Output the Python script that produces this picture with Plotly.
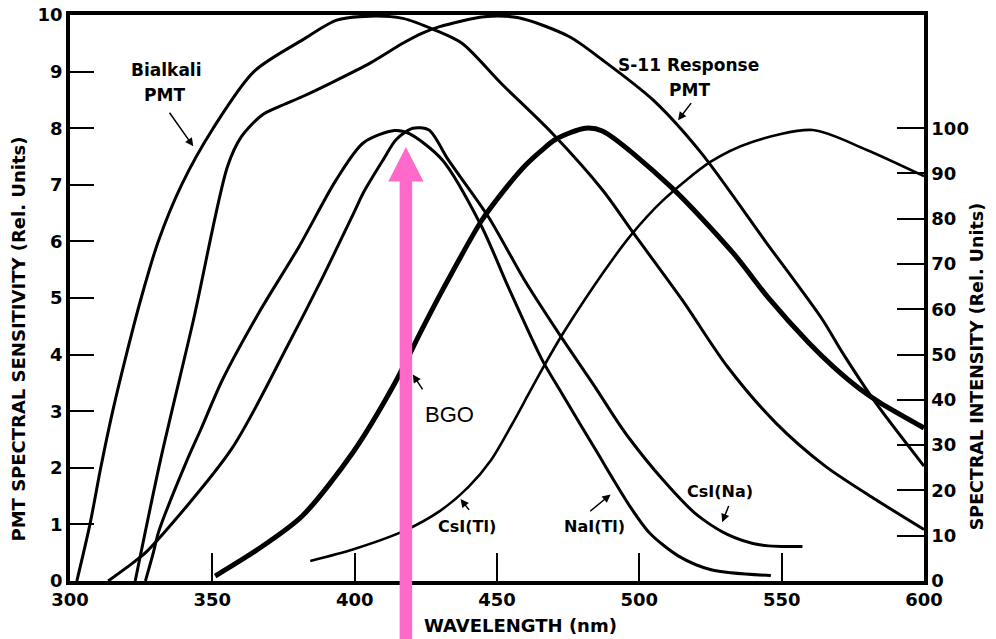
import plotly.graph_objects as go

# ---------------- data ----------------
wavelength_ticks = [300, 350, 400, 450, 500, 550, 600]
pmt_ticks = list(range(0, 11))
intensity_ticks = list(range(0, 101, 10))

# PMT spectral sensitivity (left axis, rel. units 0-10)
bialkali_nm = [302.4, 307.0, 310.8, 315.0, 319.8, 325.0, 331.0, 339.2, 350.3, 364.6,
               381.7, 393.7, 405.4, 416.9, 428.4, 437.7, 451.5, 469.4, 487.2, 497.9,
               515.0, 530.9, 548.0, 565.3, 583.0, 600.0]
bialkali_sens = [0.0, 1.0, 2.0, 3.0, 4.0, 5.0, 6.0, 7.0, 8.0, 9.0,
                 9.56, 9.91, 9.98, 9.94, 9.73, 9.5, 8.79, 7.91, 6.9, 6.15,
                 4.97, 3.79, 2.79, 2.03, 1.44, 0.91]

s11_nm = [322.9, 331.8, 343.4, 355.3, 360.2, 367.4, 373.4, 381.7, 392.5, 405.4,
          416.9, 423.8, 429.6, 445.5, 457.6, 475.3, 487.2, 504.8, 521.8, 544.6,
          564.3, 571.4, 583.0, 600.0]
s11_sens = [0.0, 2.14, 4.62, 7.32, 7.85, 8.23, 8.38, 8.56, 8.82, 9.15,
            9.5, 9.68, 9.79, 9.97, 9.95, 9.62, 9.2, 8.5, 7.56, 5.98,
            4.62, 4.03, 3.15, 2.03]

# Scintillator spectral intensity (right axis, rel. units 0-100)
nai_nm = [326.5, 329.3, 331.1, 341.2, 345.9, 353.6, 366.2, 380.5, 393.5, 403.1,
          414.0, 419.2, 430.8, 444.6, 453.9, 465.8, 472.9, 484.8, 496.7, 503.6,
          513.8, 525.2, 546.2]
nai_int = [0.0, 6.3, 10.8, 26.8, 33.4, 44.5, 59.1, 73.9, 88.6, 96.8,
           99.5, 98.8, 93.0, 78.3, 65.0, 48.9, 41.3, 28.8, 16.5, 10.6,
           5.5, 2.5, 1.2]

csina_nm = [313.4, 322.9, 327.1, 356.6, 376.3, 388.3, 399.7, 403.1, 410.0, 414.6,
            420.4, 426.1, 432.9, 446.9, 459.8, 472.0, 484.7, 491.9, 496.7, 508.2,
            519.5, 530.9, 542.2, 557.3]
csina_int = [0.0, 4.4, 6.6, 29.0, 51.8, 66.5, 81.3, 85.8, 93.0, 97.5,
             100.0, 99.6, 93.0, 80.5, 66.3, 54.4, 42.6, 35.6, 31.3, 22.4,
             15.0, 10.3, 8.0, 7.6]

bgo_nm = [351.0, 366.0, 381.5, 399.5, 413.5, 424.0, 431.0, 444.5, 451.5, 460.0,
          465.5, 470.5, 481.0, 487.0, 511.0, 533.0, 545.5, 559.5, 568.0, 577.5,
          584.5, 600.0]
bgo_int = [1.1, 7.0, 14.3, 28.5, 43.0, 56.0, 64.4, 79.5, 85.5, 91.8,
           95.0, 97.5, 100.0, 99.4, 87.1, 72.4, 62.4, 52.6, 47.4, 42.4,
           39.4, 33.8]

csitl_nm = [384.4, 399.6, 417.1, 430.0, 440.0, 448.0, 455.1, 461.1, 465.2, 471.1,
            474.1, 487.2, 496.7, 508.2, 525.1, 538.9, 560.9, 579.5, 600.0]
csitl_int = [4.4, 7.0, 11.0, 15.5, 20.8, 26.8, 34.4, 41.3, 46.0, 52.5,
             55.6, 68.0, 76.1, 84.0, 92.6, 96.8, 99.6, 95.3, 89.4]

# pink marker (wavelength, arrow tip / head base in left-axis units)
marker_nm = 418.0
marker_tip = 7.67
marker_head_base = 7.06
marker_head_half = 6.2
marker_shaft_half = 2.2

X_RANGE = [300, 600]
Y_RANGE = [0, 10]
Y2_RANGE = [0, 125]

FONT = "DejaVu Sans"
BLACK = "#000000"
PINK = "#ff69c9"

fig = go.Figure()

def curve(x, y, width, axis="y"):
    fig.add_trace(go.Scatter(
        x=x, y=y, mode="lines", yaxis=axis,
        line=dict(color=BLACK, width=width, shape="spline", smoothing=0.8),
        hoverinfo="skip", showlegend=False))

curve(bialkali_nm, bialkali_sens, 3)
curve(s11_nm, s11_sens, 3)
curve(nai_nm, nai_int, 3, "y2")
curve(csina_nm, csina_int, 3, "y2")
curve(csitl_nm, csitl_int, 2.6, "y2")
curve(bgo_nm, bgo_int, 5, "y2")

# pink arrow (paper y = value / y-span)
ys = Y_RANGE[1] - Y_RANGE[0]
fig.add_shape(type="rect", xref="x", yref="paper",
              x0=marker_nm - marker_shaft_half, x1=marker_nm + marker_shaft_half,
              y0=-0.12, y1=(marker_head_base + 0.05) / ys,
              fillcolor=PINK, line=dict(width=0), layer="above")
fig.add_shape(type="path", xref="x", yref="paper",
              path=(f"M {marker_nm - marker_head_half},{marker_head_base / ys} "
                    f"L {marker_nm + marker_head_half},{marker_head_base / ys} "
                    f"L {marker_nm},{marker_tip / ys} Z"),
              fillcolor=PINK, line=dict(width=0), layer="above")

# ---------------- labels ----------------
def label(x, y, text, size=17, bold=True, family=FONT):
    fig.add_annotation(x=x, y=y, xref="x", yref="y", text=text, showarrow=False,
                       font=dict(family=family, size=size, color=BLACK,
                                 weight="bold" if bold else "normal"),
                       xanchor="center", yanchor="middle")

def pointer(x0, y0, x1, y1):
    fig.add_annotation(x=x1, y=y1, ax=x0, ay=y0, xref="x", yref="y",
                       axref="x", ayref="y", text="", showarrow=True,
                       arrowhead=2, arrowsize=1.1, arrowwidth=1.5, arrowcolor=BLACK)

label(334.0, 9.02, "Bialkali")
label(333.2, 8.58, "PMT")
pointer(334.6, 8.30, 343.3, 7.68)

label(517.3, 9.11, "S-11 Response")
label(517.6, 8.68, "PMT")
pointer(518.6, 8.47, 513.6, 8.14)

label(433.3, 2.94, "BGO", size=22, bold=False, family="Liberation Sans")
pointer(424.2, 3.36, 420.4, 3.65)

label(439.4, 0.97, "CsI(Tl)", size=16)
pointer(440.6, 1.23, 437.2, 1.45)

label(484.2, 0.97, "NaI(Tl)", size=16)
pointer(482.2, 1.21, 489.9, 1.53)

label(528.4, 1.59, "CsI(Na)", size=16)
pointer(531.6, 1.35, 529.1, 1.04)

# axis titles
fig.add_annotation(x=-0.060, y=0.428, xref="paper", yref="paper", textangle=-90,
                   text="PMT SPECTRAL SENSITIVITY (Rel. Units)", showarrow=False,
                   font=dict(family=FONT, size=18, color=BLACK, weight="bold"),
                   xanchor="center", yanchor="middle")
fig.add_annotation(x=1.063, y=0.379, xref="paper", yref="paper", textangle=-90,
                   text="SPECTRAL INTENSITY (Rel. Units)", showarrow=False,
                   font=dict(family=FONT, size=17.5, color=BLACK, weight="bold"),
                   xanchor="center", yanchor="middle")
fig.add_annotation(x=0.527, y=-0.078, xref="paper", yref="paper",
                   text="WAVELENGTH (nm)", showarrow=False,
                   font=dict(family=FONT, size=18, color=BLACK, weight="bold"),
                   xanchor="center", yanchor="middle")

tick_font = dict(family=FONT, size=18, color=BLACK, weight="bold")
common = dict(tickcolor=BLACK, showline=True, linewidth=3.5, linecolor=BLACK,
              showgrid=False, zeroline=False, tickfont=tick_font, automargin=False,
              ticks="inside", ticklabeloverflow="allow")

fig.update_layout(
    width=996, height=639,
    margin=dict(l=70, r=72, t=15, b=58, autoexpand=False),
    paper_bgcolor="white", plot_bgcolor="white",
    showlegend=False,
    xaxis=dict(range=X_RANGE, tickvals=wavelength_ticks, ticklen=28, tickwidth=1.5,
               mirror=True, **common),
    yaxis=dict(range=Y_RANGE, tickvals=pmt_ticks, ticklen=24, tickwidth=2,
               mirror=True, **common),
    yaxis2=dict(range=Y2_RANGE, tickvals=intensity_ticks, overlaying="y", side="right",
                ticklen=27, tickwidth=2, **common),
)

# remove the browser's default 8px page margin so the figure fills the window
fig.write_html("out.html",
               config={"displayModeBar": False},
               post_script="document.body.style.margin='0';document.body.style.overflow='hidden';")
